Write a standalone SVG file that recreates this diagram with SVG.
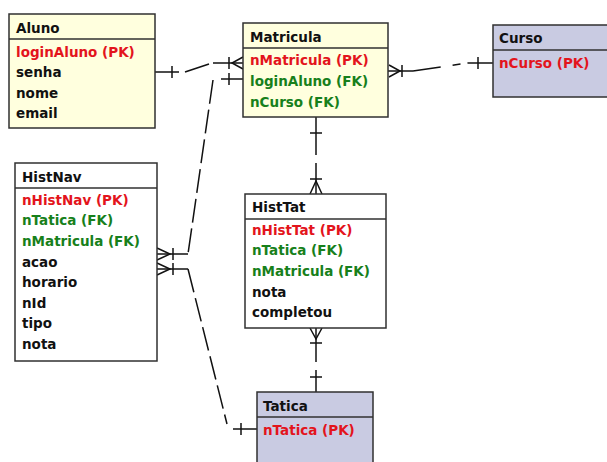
<svg xmlns="http://www.w3.org/2000/svg" width="607" height="462" viewBox="0 0 607 462">
<style>
.y{fill:#FFFFDE;stroke:#303030;stroke-width:1.5}
.p{fill:#C9CBE2;stroke:#303030;stroke-width:1.5}
.sep{stroke:#303030;stroke-width:1.5}
text{font-family:"DejaVu Sans","Verdana",sans-serif;font-weight:bold;font-size:13.5px;fill:#111}
.pk{fill:#E3141C}
.fk{fill:#17801B}
.c line,.c polyline,.c path{stroke:#111;stroke-width:1.5;fill:none}
.d{stroke-dasharray:24,6}
</style>
<rect width="607" height="462" fill="#fff"/>

<g class="c" id="connectors">
  <!-- Aluno - Matricula -->
  <line x1="155" y1="72" x2="179" y2="72"/>
  <line x1="172" y1="66" x2="172" y2="78"/>
  <line x1="185" y1="72" x2="209" y2="64"/>
  <line x1="213" y1="63" x2="243" y2="63"/>
  <line x1="229" y1="57" x2="229" y2="69"/>
  <polyline points="243,57 232,63 243,69"/>
  <!-- HistNav - Matricula -->
  <line x1="221" y1="79" x2="243" y2="79"/>
  <line x1="229" y1="73" x2="229" y2="85"/>
  <line class="d" x1="213" y1="80" x2="188" y2="254"/>
  <line x1="188" y1="254" x2="157" y2="254"/>
  <line x1="173" y1="248" x2="173" y2="260"/>
  <polyline points="157,248 170,254 157,260"/>
  <!-- HistNav - Tatica -->
  <line x1="188" y1="269" x2="157" y2="269"/>
  <line x1="173" y1="263" x2="173" y2="275"/>
  <polyline points="157,263 170,269 157,275"/>
  <line class="d" x1="188" y1="269" x2="227" y2="424"/>
  <line x1="233" y1="429" x2="257" y2="429"/>
  <line x1="241" y1="423" x2="241" y2="435"/>
  <!-- Matricula - Curso -->
  <polyline points="389,65 400,71 389,77"/>
  <line x1="388" y1="71" x2="413" y2="71"/>
  <line x1="402" y1="65" x2="402" y2="77"/>
  <line x1="413" y1="71" x2="468" y2="63" style="stroke-dasharray:28,12,8,7"/>
  <line x1="468" y1="63" x2="493" y2="63"/>
  <line x1="478" y1="57" x2="478" y2="69"/>
  <!-- Matricula - HistTat -->
  <line x1="316" y1="117" x2="316" y2="155"/>
  <line x1="310" y1="133" x2="322" y2="133"/>
  <line x1="316" y1="163" x2="316" y2="194"/>
  <line x1="310" y1="179" x2="322" y2="179"/>
  <polyline points="310,194 316,181 322,194"/>
  <!-- HistTat - Tatica -->
  <polyline points="310,328 316,339 322,328"/>
  <line x1="316" y1="328" x2="316" y2="362"/>
  <line x1="310" y1="343" x2="322" y2="343"/>
  <line x1="316" y1="370" x2="316" y2="392"/>
  <line x1="310" y1="377" x2="322" y2="377"/>
</g>

<g id="Aluno">
  <rect class="y" x="9" y="14" width="146" height="114"/>
  <line class="sep" x1="9" y1="39" x2="155" y2="39"/>
  <text x="16" y="33">Aluno</text>
  <text class="pk" x="16" y="57">loginAluno (PK)</text>
  <text x="16" y="77">senha</text>
  <text x="16" y="98">nome</text>
  <text x="16" y="118">email</text>
</g>

<g id="Matricula">
  <rect class="y" x="243" y="23" width="145" height="94"/>
  <line class="sep" x1="243" y1="48" x2="388" y2="48"/>
  <text x="250" y="42">Matricula</text>
  <text class="pk" x="250" y="65">nMatricula (PK)</text>
  <text class="fk" x="250" y="86">loginAluno (FK)</text>
  <text class="fk" x="250" y="107">nCurso (FK)</text>
</g>

<g id="Curso">
  <rect class="p" x="493" y="25" width="120" height="72"/>
  <line class="sep" x1="493" y1="50" x2="613" y2="50"/>
  <text x="499" y="43">Curso</text>
  <text class="pk" x="499" y="68">nCurso (PK)</text>
</g>

<g id="HistNav">
  <rect class="y" x="15" y="163" width="142" height="198" style="fill:#fff"/>
  <line class="sep" x1="15" y1="188" x2="157" y2="188"/>
  <text x="22" y="182">HistNav</text>
  <text class="pk" x="22" y="205">nHistNav (PK)</text>
  <text class="fk" x="22" y="225">nTatica (FK)</text>
  <text class="fk" x="22" y="246">nMatricula (FK)</text>
  <text x="22" y="267">acao</text>
  <text x="22" y="287">horario</text>
  <text x="22" y="308">nId</text>
  <text x="22" y="328">tipo</text>
  <text x="22" y="349">nota</text>
</g>

<g id="HistTat">
  <rect class="y" x="245" y="194" width="141" height="134" style="fill:#fff"/>
  <line class="sep" x1="245" y1="219" x2="386" y2="219"/>
  <text x="252" y="212">HistTat</text>
  <text class="pk" x="252" y="235">nHistTat (PK)</text>
  <text class="fk" x="252" y="255">nTatica (FK)</text>
  <text class="fk" x="252" y="276">nMatricula (FK)</text>
  <text x="252" y="297">nota</text>
  <text x="252" y="317">completou</text>
</g>

<g id="Tatica">
  <rect class="p" x="257" y="392" width="116" height="80"/>
  <line class="sep" x1="257" y1="417" x2="373" y2="417"/>
  <text x="263" y="411">Tatica</text>
  <text class="pk" x="263" y="435">nTatica (PK)</text>
</g>
</svg>
